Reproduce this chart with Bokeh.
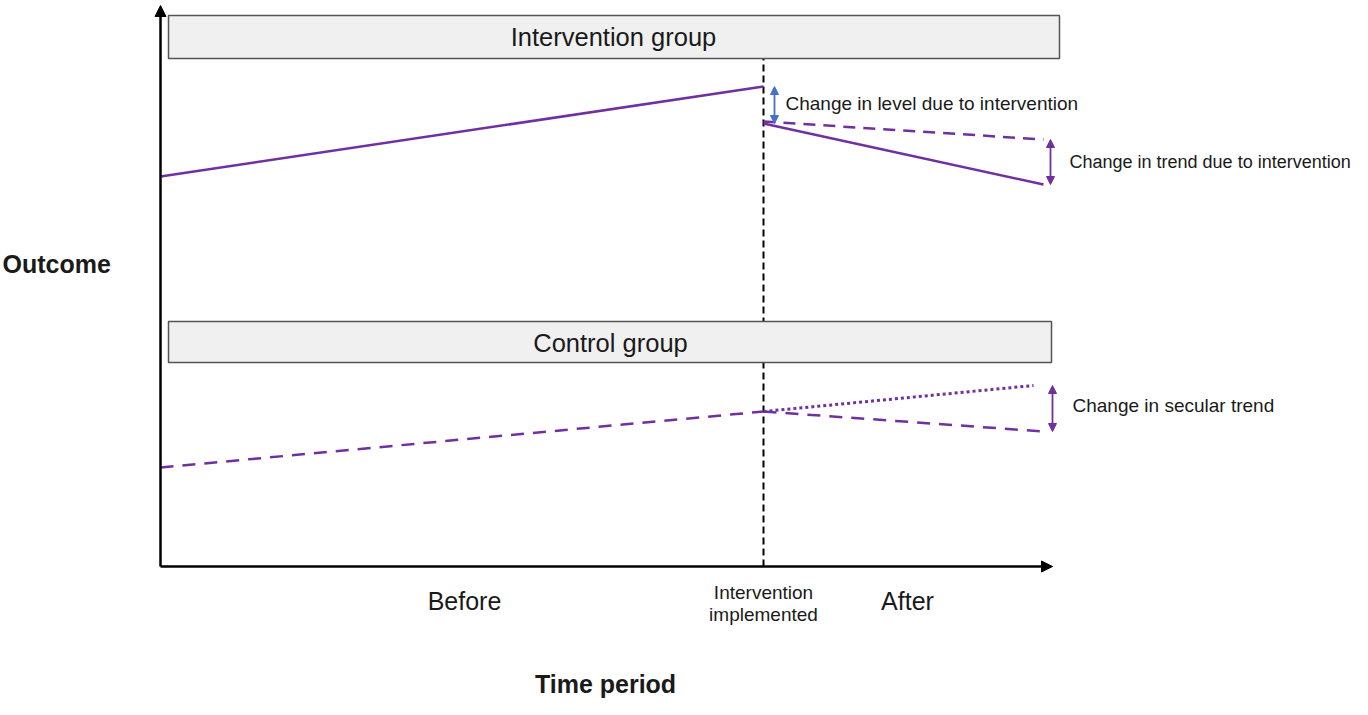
from bokeh.plotting import figure
from bokeh.models import Range1d, Arrow, NormalHead
from bokeh.core.properties import value
from bokeh.embed import file_html
from bokeh.resources import INLINE

# ---- data (schematic interrupted time series) ----
intervention_time = 6.03
end_time = 8.83
time_pre = [0.0, intervention_time]
time_post = [intervention_time, end_time]
time_secular = [intervention_time, 8.73]

intervention_pre = [7.8, 9.6]
intervention_post = [8.86, 7.64]
intervention_counterfactual = [8.9, 8.54]

control_pre = [1.98, 3.1]
control_post = [3.1, 2.7]
control_secular = [3.1, 3.62]

group_labels = ["Intervention group", "Control group"]
period_labels = ["Before", "After"]

PURPLE = "#7030A0"
BLUE = "#4472C4"
FONT = "Liberation Sans"
TXT = "#1a1a1a"

W, H = 1352, 699
p = figure(width=W, height=H, output_backend="svg", toolbar_location=None,
           x_range=Range1d(-1.6, 11.92), y_range=Range1d(-2.66, 11.32),
           x_axis_location=None, y_axis_location=None, min_border=0)
p.outline_line_color = None
p.xgrid.visible = False
p.ygrid.visible = False
p.background_fill_color = "white"
p.border_fill_color = "white"

# vertical dashed intervention line
p.line([intervention_time, intervention_time], [0, 10.16], line_color="black",
       line_width=2, line_dash="7 4")

# group header boxes
p.quad(left=[0.08], right=[8.99], top=[11.02], bottom=[10.16],
       fill_color="#f0f0f0", line_color="#555555", line_width=1.5)
p.quad(left=[0.08], right=[8.91], top=[4.9], bottom=[4.08],
       fill_color="#f0f0f0", line_color="#555555", line_width=1.5)

# axes with arrows
p.add_layout(Arrow(end=NormalHead(size=11, fill_color="black", line_color="black"),
                   x_start=0, y_start=0, x_end=0, y_end=11.22,
                   line_color="black", line_width=2.5))
p.add_layout(Arrow(end=NormalHead(size=11, fill_color="black", line_color="black"),
                   x_start=0, y_start=0, x_end=8.92, y_end=0,
                   line_color="black", line_width=2.5))

# intervention group
p.line(time_pre, intervention_pre, line_color=PURPLE, line_width=2.5)
p.line(time_post, intervention_post, line_color=PURPLE, line_width=2.5)
p.line(time_post, intervention_counterfactual, line_color=PURPLE, line_width=2.5,
       line_dash="12 8")

# control group
p.line(time_pre, control_pre, line_color=PURPLE, line_width=2.5, line_dash="13 9")
p.line(time_post, control_post, line_color=PURPLE, line_width=2.5, line_dash="13 9")
p.line(time_secular, control_secular, line_color=PURPLE, line_width=3,
       line_dash="3 3")

# difference arrows
def dbl_arrow(x, y0, y1, color):
    p.add_layout(Arrow(start=NormalHead(size=8, fill_color=color, line_color=color),
                       end=NormalHead(size=8, fill_color=color, line_color=color),
                       x_start=x, y_start=y0, x_end=x, y_end=y1,
                       line_color=color, line_width=1.8))

dbl_arrow(6.14, intervention_post[0], intervention_pre[1], BLUE)
dbl_arrow(8.90, intervention_post[1], intervention_counterfactual[1], PURPLE)
dbl_arrow(8.92, control_post[1], control_secular[1], PURPLE)

def txt(x, y, s, size, align="left", bold=False):
    p.text(x=[x], y=[y], text=[s], text_font=value(FONT),
           text_font_size=f"{size}px", text_align=align,
           text_baseline="middle", text_color=TXT,
           text_font_style="bold" if bold else "normal")

txt(6.25, 9.26, "Change in level due to intervention", 19)
txt(9.09, 8.1, "Change in trend due to intervention", 18)
txt(9.12, 3.22, "Change in secular trend", 19)

txt(4.53, 10.6, group_labels[0], 25.5, "center")
txt(4.50, 4.48, group_labels[1], 25.5, "center")

txt(3.04, -0.68, period_labels[0], 25, "center")
txt(7.47, -0.68, period_labels[1], 25, "center")
txt(intervention_time, -0.52, "Intervention", 19, "center")
txt(intervention_time, -0.96, "implemented", 19, "center")

txt(-1.58, 6.06, "Outcome", 25, "left", bold=True)
txt(4.45, -2.34, "Time period", 25, "center", bold=True)

open("out.html", "w").write(file_html(p, INLINE))
